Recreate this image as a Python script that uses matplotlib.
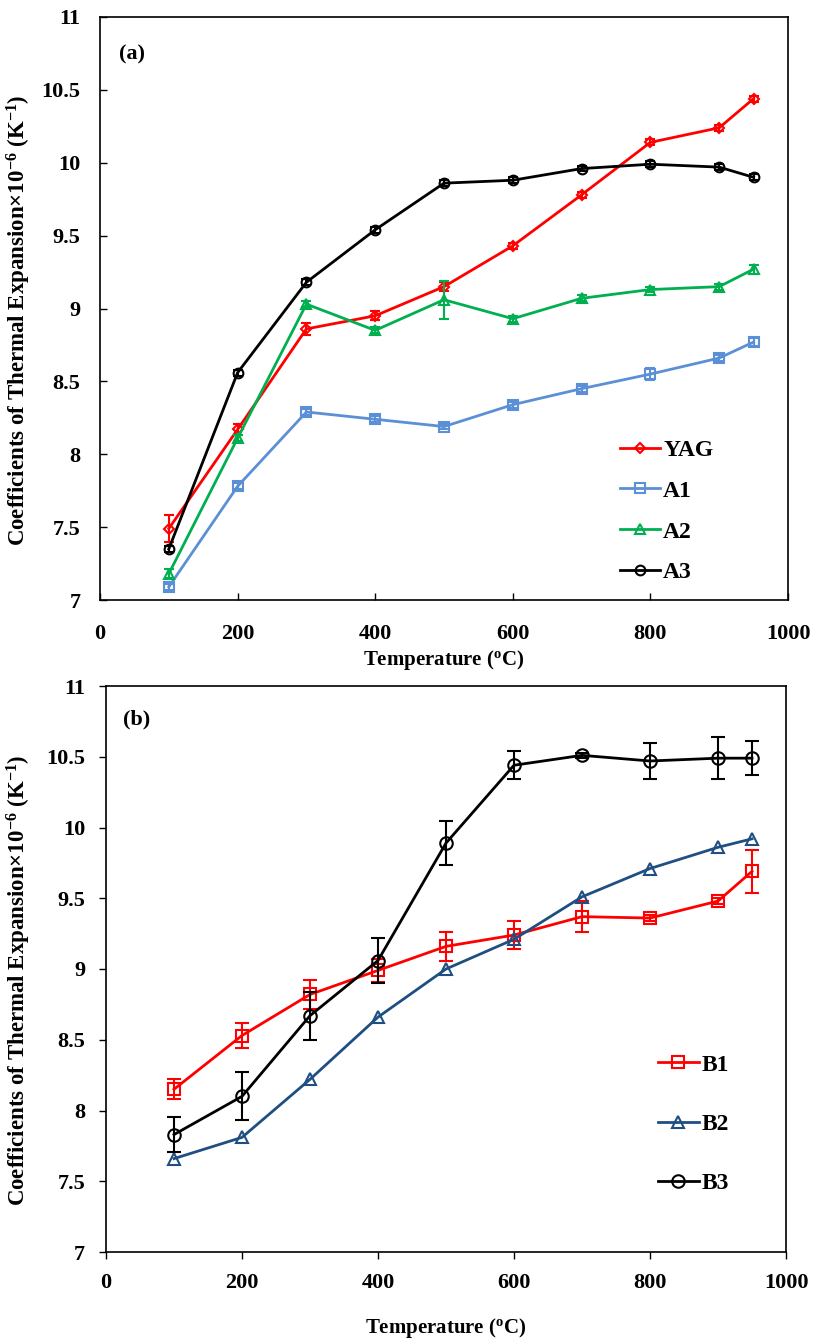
import matplotlib
matplotlib.use('Agg')
import matplotlib.pyplot as plt

plt.rcParams['font.family'] = ['Liberation Serif', 'DejaVu Serif']
plt.rcParams['font.weight'] = 'bold'
plt.rcParams['mathtext.fontset'] = 'custom'
plt.rcParams['mathtext.rm'] = 'Liberation Serif:bold'
plt.rcParams['mathtext.bf'] = 'Liberation Serif:bold'
plt.rcParams['mathtext.default'] = 'rm'

# panel (a) data
temp_a = [100, 200, 300, 400, 500, 600, 700, 800, 900, 950]
yag = [7.49, 8.17, 8.86, 8.95, 9.15, 9.43, 9.78, 10.14, 10.24, 10.44]
yag_err = [0.09, 0.04, 0.04, 0.03, 0.03, 0.02, 0.02, 0.02, 0.02, 0.02]
a1 = [7.09, 7.78, 8.29, 8.24, 8.19, 8.34, 8.45, 8.55, 8.66, 8.77]
a1_err = [0.02, 0.02, 0.02, 0.02, 0.02, 0.02, 0.02, 0.04, 0.02, 0.03]
a2 = [7.18, 8.11, 9.03, 8.85, 9.06, 8.93, 9.07, 9.13, 9.15, 9.27]
a2_err = [0.03, 0.02, 0.02, 0.02, 0.13, 0.02, 0.02, 0.02, 0.02, 0.03]
a3 = [7.35, 8.56, 9.18, 9.54, 9.86, 9.88, 9.96, 9.99, 9.97, 9.90]
a3_err = [0.02, 0.02, 0.02, 0.02, 0.02, 0.02, 0.02, 0.02, 0.02, 0.02]

# panel (b) data
temp_b = [100, 200, 300, 400, 500, 600, 700, 800, 900, 950]
b1 = [8.15, 8.53, 8.82, 8.99, 9.16, 9.24, 9.37, 9.36, 9.48, 9.69]
b1_err = [0.07, 0.09, 0.10, 0.08, 0.105, 0.10, 0.11, 0.02, 0.02, 0.15]
b2 = [7.66, 7.81, 8.22, 8.66, 9.00, 9.21, 9.51, 9.71, 9.86, 9.92]
b3 = [7.83, 8.10, 8.67, 9.06, 9.89, 10.44, 10.51, 10.47, 10.49, 10.49]
b3_err = [0.125, 0.17, 0.17, 0.16, 0.155, 0.10, 0.02, 0.125, 0.15, 0.12]

ylab = 'Coefficients of Thermal Expansion×10$^{-6}$ (K$^{-1}$)'
xlab = 'Temperature ($^{o}$C)'

fig = plt.figure(figsize=(8.15, 13.43), dpi=100)
ax1 = fig.add_axes([100/815, 1-600/1343, 688/815, 583/1343])
ax2 = fig.add_axes([106/815, 1-1252/1343, 680/815, 566/1343])

# top panel
series_a = [(yag, yag_err, '#FF0000', 'D', 'YAG', 5.5),
            (a1, a1_err, '#5B8FD6', 's', 'A1', 7),
            (a2, a2_err, '#00B050', '^', 'A2', 7),
            (a3, a3_err, '#000000', 'o', 'A3', 7)]
handles = []
for vals, err, col, mk, lab, ms in series_a:
    ax1.errorbar(temp_a, vals, yerr=err, fmt='none', ecolor=col, elinewidth=1.5, capsize=3.5, capthick=1.5)
    h, = ax1.plot(temp_a, vals, color=col, lw=2, marker=mk, ms=ms, mfc='none', mec=col, mew=1.5, label=lab)
    handles.append(h)

# bottom panel
series_b = [(b1, b1_err, '#FF0000', 's', 'B1'),
            (b2, None, '#1F4E82', '^', 'B2'),
            (b3, b3_err, '#000000', 'o', 'B3')]
handles_b = []
for vals, err, col, mk, lab in series_b:
    if err is not None:
        ax2.errorbar(temp_b, vals, yerr=err, fmt='none', ecolor=col, elinewidth=1.5, capsize=5, capthick=1.5)
    h, = ax2.plot(temp_b, vals, color=col, lw=2, marker=mk, ms=9, mfc='none', mec=col, mew=1.5, label=lab)
    handles_b.append(h)

for ax, tdir in [(ax1, 'in'), (ax2, 'out')]:
    ax.set_xlim(0, 1000)
    ax.set_ylim(7, 11)
    ax.set_xticks([0, 200, 400, 600, 800, 1000])
    ax.set_yticks([7, 7.5, 8, 8.5, 9, 9.5, 10, 10.5, 11])
    ax.set_yticklabels(['7', '7.5', '8', '8.5', '9', '9.5', '10', '10.5', '11'])
    ax.tick_params(direction=tdir, length=5, width=1, labelsize=16)
    for s in ax.spines.values():
        s.set_linewidth(1.2)

ax1.tick_params(axis='x', pad=17)
ax1.tick_params(axis='y', pad=14)
ax2.tick_params(axis='x', pad=10)
ax2.tick_params(axis='y', pad=10)
ax1.set_xlabel(xlab, fontsize=15, fontweight='bold', labelpad=3)
ax2.set_xlabel(xlab, fontsize=15, fontweight='bold', labelpad=17)
ax1.set_ylabel(ylab, fontsize=16.5, fontweight='bold')
ax2.set_ylabel(ylab, fontsize=16.5, fontweight='bold')
ax1.yaxis.set_label_coords(-0.098, 0.48)
ax2.yaxis.set_label_coords(-0.108, 0.48)

ax1.text(0.028, 0.935, '(a)', transform=ax1.transAxes, fontsize=16, fontweight='bold', va='center')
ax2.text(0.025, 0.94, '(b)', transform=ax2.transAxes, fontsize=16, fontweight='bold', va='center')

ax1.legend(handles=handles, loc='center left', bbox_to_anchor=(0.738, 0.152), frameon=False,
           fontsize=17, labelspacing=0.82, handlelength=1.7, handletextpad=0.15, borderpad=0)
ax2.legend(handles=handles_b, loc='center left', bbox_to_anchor=(0.795, 0.226), frameon=False,
           fontsize=17, labelspacing=1.6, handlelength=1.7, handletextpad=0.15, borderpad=0)

fig.savefig('out.png', dpi=100)
